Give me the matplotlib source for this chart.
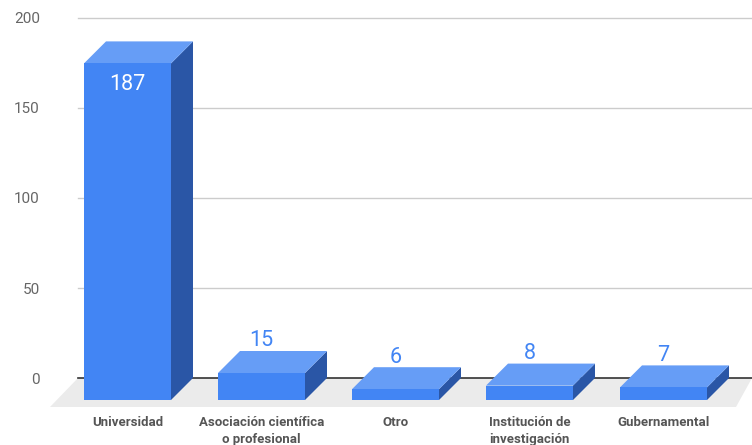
import matplotlib.pyplot as plt
from matplotlib.patches import Polygon

plt.rcParams['font.family'] = ['Roboto', 'DejaVu Sans']

# datos
categorias = ['Universidad', 'Asociación científica\no profesional', 'Otro',
              'Institución de\ninvestigación', 'Gubernamental']
valores = [187, 15, 6, 8, 7]
yticks = [0, 50, 100, 150, 200]

c_front = '#4285f4'
c_top = '#669df6'
c_side = '#2a56a6'

fig = plt.figure(figsize=(7.52, 4.45), dpi=100)
# ejes: izquierda en x=78px, arriba en y=10px, abajo en y=410px
ax = fig.add_axes([78 / 752, 35 / 445, 674 / 752, 400 / 445])

px_y = 1.8    # pixeles por unidad
px_x = 134.0  # pixeles por categoria
ax.set_xlim((78 - 127.5) / px_x, (752 - 127.5) / px_x)
ax.set_ylim(-32 / px_y, 368 / px_y)

w = 87 / px_x
dx = 22 / px_x
dv = 22 / px_y

# suelo gris
fx0, fx1 = (50 - 127.5) / px_x, (736 - 127.5) / px_x
bx0, bx1 = (78 - 127.5) / px_x, (752 - 127.5) / px_x
fy = -29 / px_y
ax.add_patch(Polygon([(fx0, fy), (fx1, fy), (bx1, 0), (bx0, 0)],
                     closed=True, fc='#ebebeb', ec='none', zorder=1, clip_on=False))

# lineas de cuadricula
for t in yticks:
    ax.axhline(t, color='#333333' if t == 0 else '#cccccc', lw=1.2 if t == 0 else 1,
               zorder=2, clip_on=False)

for i, v in enumerate(valores):
    x0, x1 = i - w / 2, i + w / 2
    ax.add_patch(Polygon([(x1, -dv), (x1 + dx, 0), (x1 + dx, v), (x1, v - dv)],
                         closed=True, fc=c_side, ec='none', zorder=3, clip_on=False))
    ax.add_patch(Polygon([(x0, v - dv), (x1, v - dv), (x1 + dx, v), (x0 + dx, v)],
                         closed=True, fc=c_top, ec='none', zorder=3, clip_on=False))
    ax.add_patch(Polygon([(x0, -dv), (x1, -dv), (x1, v - dv), (x0, v - dv)],
                         closed=True, fc=c_front, ec='none', zorder=4, clip_on=False))
    if v > 100:
        ax.text(i, v - dv - 21 / px_y, str(v), color='white', fontsize=15.5,
                ha='center', va='center', zorder=5)
    else:
        ax.text(i, v + 10 / px_y, str(v), color=c_front, fontsize=15.5,
                ha='center', va='center', zorder=5)

# etiquetas de categorias
for i, c in enumerate(categorias):
    ax.text(i, -38 / px_y, c, ha='center', va='top', fontsize=9.5,
            fontweight='bold', color='#555555', linespacing=1.35)

ax.set_yticks(yticks)
ax.set_yticklabels([str(t) for t in yticks])
ax.tick_params(axis='y', length=0, pad=27.5, labelsize=11, labelcolor='#666666')
ax.set_xticks([])
for s in ax.spines.values():
    s.set_visible(False)
for lab in ax.get_yticklabels():
    lab.set_ha('right')

fig.savefig('out.png', dpi=100)
